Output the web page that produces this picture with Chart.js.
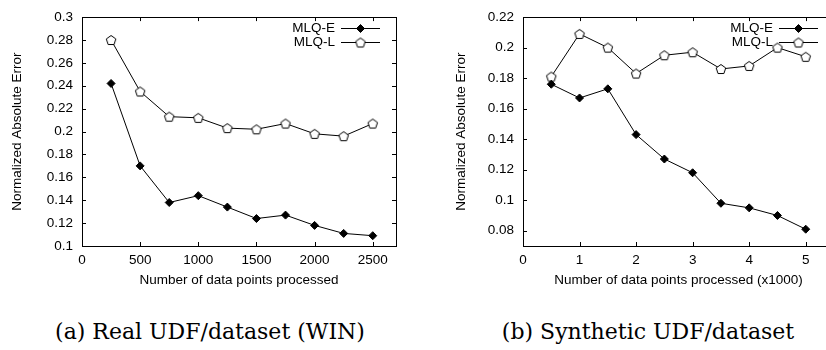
<!DOCTYPE html>
<html>
<head>
<meta charset="utf-8">
<script src="https://cdn.jsdelivr.net/npm/chart.js@4/dist/chart.umd.min.js"></script>
<style>
  html, body { margin: 0; padding: 0; background: #fff; overflow: hidden; }
  body { width: 826px; height: 350px; position: relative; }
  canvas { position: absolute; top: 0; }
  #chartA { left: 0; }
  #chartB { left: 413px; }
  .caption {
    position: absolute; top: 321px; line-height: 22px;
    font-family: "DejaVu Serif", serif; font-size: 22px; color: #000;
    white-space: nowrap; transform: translateX(-50%);
  }
</style>
</head>
<body>
<canvas id="chartA" width="413" height="300"></canvas>
<canvas id="chartB" width="450" height="300"></canvas>
<div class="caption" style="left:210px">(a) Real UDF/dataset (WIN)</div>
<div class="caption" style="left:648px">(b) Synthetic UDF/dataset</div>
<script>
// values
const seriesNames = ["MLQ-E", "MLQ-L"];
const yTitle = "Normalized Absolute Error";

const realX = [250, 500, 750, 1000, 1250, 1500, 1750, 2000, 2250, 2500];
const realMlqE = [0.242, 0.170, 0.138, 0.144, 0.134, 0.124, 0.127, 0.118, 0.111, 0.109];
const realMlqL = [0.280, 0.235, 0.213, 0.212, 0.203, 0.202, 0.207, 0.198, 0.196, 0.207];
const realXTicks = [0, 500, 1000, 1500, 2000, 2500];
const realYTicks = [0.1, 0.12, 0.14, 0.16, 0.18, 0.2, 0.22, 0.24, 0.26, 0.28, 0.3];

const synthX = [0.5, 1, 1.5, 2, 2.5, 3, 3.5, 4, 4.5, 5];
const synthMlqE = [0.176, 0.167, 0.173, 0.143, 0.127, 0.118, 0.098, 0.095, 0.090, 0.081];
const synthMlqL = [0.181, 0.209, 0.200, 0.183, 0.195, 0.197, 0.186, 0.188, 0.200, 0.194];
const synthXTicks = [0, 1, 2, 3, 4, 5];
const synthYTicks = [0.08, 0.1, 0.12, 0.14, 0.16, 0.18, 0.2, 0.22];

const labelFont = { family: "'Liberation Sans', Arial, sans-serif", size: 13.5 };

// open pentagon marker, gnuplot style
function pentagonMarker(r) {
  const c = document.createElement("canvas");
  const s = 14;
  c.width = s;
  c.height = s;
  const ctx = c.getContext("2d");
  ctx.beginPath();
  for (let i = 0; i < 5; i++) {
    const a = -Math.PI / 2 + i * 2 * Math.PI / 5;
    const px = s / 2 + r * Math.cos(a);
    const py = s / 2 + 0.5 + r * Math.sin(a);
    if (i) ctx.lineTo(px, py); else ctx.moveTo(px, py);
  }
  ctx.closePath();
  ctx.fillStyle = "#fff";
  ctx.fill();
  ctx.strokeStyle = "#000";
  ctx.lineWidth = 1;
  ctx.stroke();
  return c;
}
const pentagon = pentagonMarker(5);

// border box + inward ticks on all sides
const framePlugin = {
  id: "frame",
  beforeDatasetsDraw(chart) {
    const { ctx, chartArea: a, scales: { x, y } } = chart;
    const len = 4;
    ctx.save();
    ctx.strokeStyle = "#000";
    ctx.lineWidth = 1;
    ctx.beginPath();
    x.ticks.forEach(t => {
      const px = Math.round(x.getPixelForValue(t.value)) + 0.5;
      ctx.moveTo(px, a.bottom); ctx.lineTo(px, a.bottom - len);
      ctx.moveTo(px, a.top); ctx.lineTo(px, a.top + len);
    });
    y.ticks.forEach(t => {
      const py = Math.round(y.getPixelForValue(t.value)) + 0.5;
      ctx.moveTo(a.left, py); ctx.lineTo(a.left + len, py);
      ctx.moveTo(a.right, py); ctx.lineTo(a.right - len, py);
    });
    ctx.stroke();
    ctx.strokeRect(Math.round(a.left) + 0.5, Math.round(a.top) + 0.5,
      Math.round(a.right - a.left), Math.round(a.bottom - a.top));
    ctx.restore();
  }
};

// key in the top right corner: label, then line sample with marker
const keyPlugin = {
  id: "key",
  afterDraw(chart) {
    const { ctx, chartArea: a } = chart;
    ctx.save();
    ctx.font = labelFont.size + "px " + labelFont.family;
    ctx.textAlign = "right";
    ctx.textBaseline = "middle";
    chart.data.datasets.forEach((ds, i) => {
      const yy = Math.round(a.top + 11 + i * 13.7) + 0.5;
      ctx.fillStyle = "#000";
      ctx.fillText(ds.label, a.right - 61, yy);
      ctx.strokeStyle = "#000";
      ctx.lineWidth = 1;
      ctx.beginPath();
      ctx.moveTo(a.right - 55, yy);
      ctx.lineTo(a.right - 16, yy);
      ctx.stroke();
      Chart.helpers.drawPoint(ctx, { pointStyle: ds.pointStyle, radius: ds.pointRadius, borderWidth: 1, rotation: 0 },
        a.right - 35.5, yy);
    });
    ctx.restore();
  }
};

function makeDataset(label, xs, ys, marker) {
  return {
    label: label,
    data: xs.map((x, i) => ({ x: x, y: ys[i] })),
    showLine: true,
    borderColor: "#000",
    borderWidth: 1,
    backgroundColor: "#000",
    pointStyle: marker,
    pointRadius: 4,
    pointBorderWidth: 1,
    pointBorderColor: "#000",
    pointBackgroundColor: "#000"
  };
}

function makeChart(id, cfg) {
  new Chart(document.getElementById(id), {
    type: "scatter",
    data: {
      datasets: [
        makeDataset(seriesNames[0], cfg.xs, cfg.e, "rectRot"),
        makeDataset(seriesNames[1], cfg.xs, cfg.l, pentagon)
      ]
    },
    options: {
      responsive: false,
      animation: false,
      devicePixelRatio: 1,
      layout: { padding: { left: 0, top: 13, right: cfg.padRight, bottom: 0 } },
      plugins: { legend: { display: false }, tooltip: { enabled: false } },
      scales: {
        x: {
          type: "linear",
          min: cfg.xMin,
          max: cfg.xMax,
          afterBuildTicks: s => { s.ticks = cfg.xTicks.map(v => ({ value: v })); },
          afterFit: s => { s.height = 54; },
          grid: { display: false, drawTicks: false },
          border: { display: false },
          ticks: { padding: 6, color: "#000", font: labelFont, maxRotation: 0, callback: v => String(v) },
          title: { display: true, text: cfg.xTitle, color: "#000", font: labelFont, padding: { top: 0, bottom: 12 } }
        },
        y: {
          type: "linear",
          min: cfg.yMin,
          max: cfg.yMax,
          afterBuildTicks: s => { s.ticks = cfg.yTicks.map(v => ({ value: v })); },
          afterFit: s => { s.width = cfg.yWidth; },
          grid: { display: false, drawTicks: false },
          border: { display: false },
          ticks: { padding: 9, color: "#000", font: labelFont, callback: v => String(+v.toFixed(2)) },
          title: { display: true, text: yTitle, color: "#000", font: labelFont, padding: { top: cfg.yTitlePad, bottom: 0 } }
        }
      }
    },
    plugins: [framePlugin, keyPlugin]
  });
}

makeChart("chartA", {
  xs: realX, e: realMlqE, l: realMlqL,
  xMin: 0, xMax: 2700, xTicks: realXTicks,
  yMin: 0.1, yMax: 0.3, yTicks: realYTicks,
  xTitle: "Number of data points processed",
  yWidth: 82, yTitlePad: 9, padRight: 17
});

makeChart("chartB", {
  xs: synthX, e: synthMlqE, l: synthMlqL,
  xMin: 0, xMax: 5.5, xTicks: synthXTicks,
  yMin: 0.07, yMax: 0.22, yTicks: synthYTicks,
  xTitle: "Number of data points processed (x1000)",
  yWidth: 110, yTitlePad: 40, padRight: 29
});
</script>
</body>
</html>
